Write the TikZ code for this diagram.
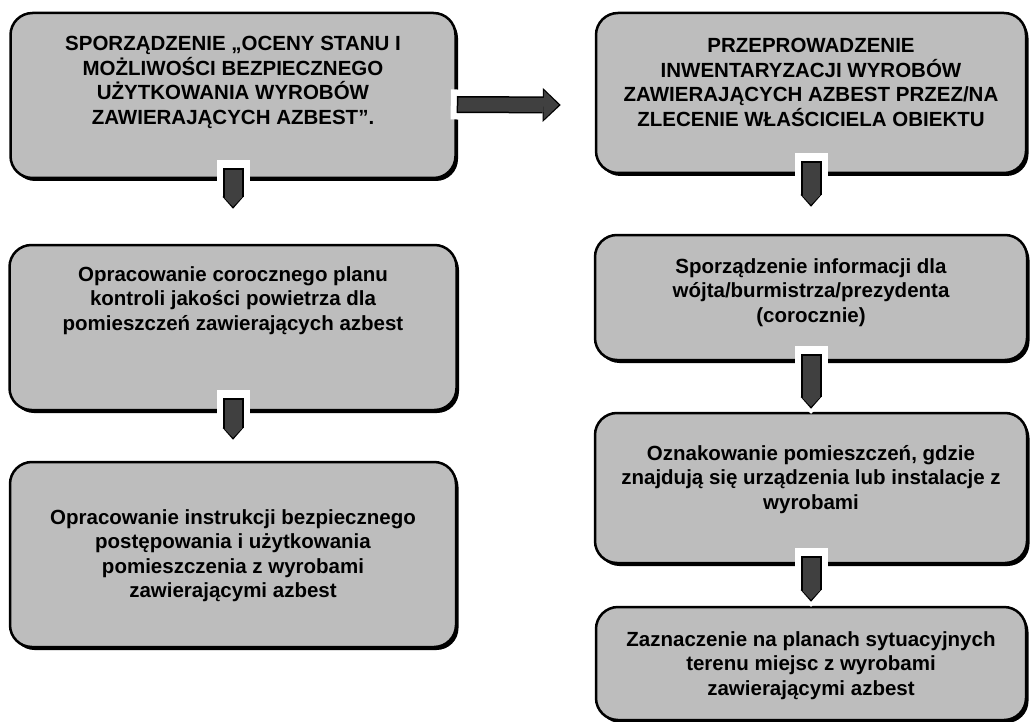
\documentclass[tikz,border=0pt]{standalone}
\usepackage{fontspec}
\setmainfont{Liberation Sans}
\usetikzlibrary{arrows.meta,shadows}

\definecolor{boxgray}{gray}{0.74}
\definecolor{arrowgray}{gray}{0.25}

\tikzset{
  stepbox/.style={draw=black, line width=2.5pt, rounded corners=22pt, fill=boxgray,
    align=center, inner sep=6pt, font=\bfseries\fontsize{20.5}{24.5}\selectfont,
    drop shadow={shadow xshift=2.5pt, shadow yshift=-3pt, fill=black, opacity=1}},
  downarrow/.style={draw=arrowgray, line width=17pt, shorten <=1.5pt,
    -{Triangle[width=17pt,length=9pt,line width=0pt,sep=2pt]},
    preaction={draw=white, line width=33pt, shorten <=-8pt, shorten >=-5pt,
      -{Triangle[width=33pt,length=16pt,line width=0pt]}},
    preaction={draw=black, line width=21pt, shorten <=0pt,
      -{Triangle[width=21pt,length=12pt,line width=0pt]}}},
  rightarrow/.style={draw=arrowgray, line width=14pt, shorten <=1.5pt,
    -{Triangle[width=29pt,length=15pt,line width=0pt,sep=2pt]},
    preaction={draw=white, line width=30pt, shorten <=-6pt,
      -{Triangle[width=44pt,length=22pt,line width=0pt]}},
    preaction={draw=black, line width=17pt, shorten <=0pt,
      -{Triangle[width=34pt,length=18pt,line width=0pt]}}}
}

\begin{document}
\begin{tikzpicture}[x=1pt,y=-1pt]
\useasboundingbox (0,0) rectangle (1030,722);
\pgfmathsetmacro{\leftx}{233}
\pgfmathsetmacro{\rightx}{811}

\node[stepbox, minimum width=445pt, minimum height=165pt, text depth=30pt] (ocena) at (\leftx,95.5)
  {SPORZĄDZENIE „OCENY STANU I\\MOŻLIWOŚCI BEZPIECZNEGO\\UŻYTKOWANIA WYROBÓW\\ZAWIERAJĄCYCH AZBEST”.};
\node[stepbox, minimum width=447pt, minimum height=165pt, text depth=58pt] (plan) at (\leftx,327.5)
  {Opracowanie corocznego planu\\kontroli jakości powietrza dla\\pomieszczeń zawierających azbest};
\node[stepbox, minimum width=446pt, minimum height=185pt, text depth=2pt] (instr) at (\leftx,554.5)
  {Opracowanie instrukcji bezpiecznego\\postępowania i użytkowania\\pomieszczenia z wyrobami\\zawierającymi azbest};

\node[stepbox, minimum width=430pt, minimum height=160pt, text depth=21pt] (inwent) at (\rightx,93)
  {PRZEPROWADZENIE\\INWENTARYZACJI WYROBÓW\\ZAWIERAJĄCYCH AZBEST PRZEZ/NA\\ZLECENIE WŁAŚCICIELA OBIEKTU};
\node[stepbox, minimum width=432pt, minimum height=125pt, text depth=14pt] (info) at (\rightx,297.5)
  {Sporządzenie informacji dla\\wójta/burmistrza/prezydenta\\(corocznie)};
\node[stepbox, minimum width=432pt, minimum height=150pt, text depth=22pt] (oznak) at (\rightx,488)
  {Oznakowanie pomieszczeń, gdzie\\znajdują się urządzenia lub instalacje z\\wyrobami};
\node[stepbox, minimum width=430pt, minimum height=113pt, text depth=0pt] (zazn) at (\rightx,663.5)
  {Zaznaczenie na planach sytuacyjnych\\terenu miejsc z wyrobami\\zawierającymi azbest};

\draw[rightarrow] ([yshift=-9pt]ocena.east) -- ([xshift=-34pt,yshift=-12pt]inwent.west);
\draw[downarrow] ([yshift=11pt]ocena.south) -- ([yshift=35pt]plan.north);
\draw[downarrow] ([yshift=13pt]plan.south) -- ([yshift=21pt]instr.north);
\draw[downarrow] ([yshift=13pt]inwent.south) -- ([yshift=27pt]info.north);
\draw[downarrow] ([yshift=7pt]info.south) -- ([yshift=3pt]oznak.north);
\draw[downarrow] ([yshift=8pt]oznak.south) -- ([yshift=4pt]zazn.north);
\end{tikzpicture}
\end{document}
